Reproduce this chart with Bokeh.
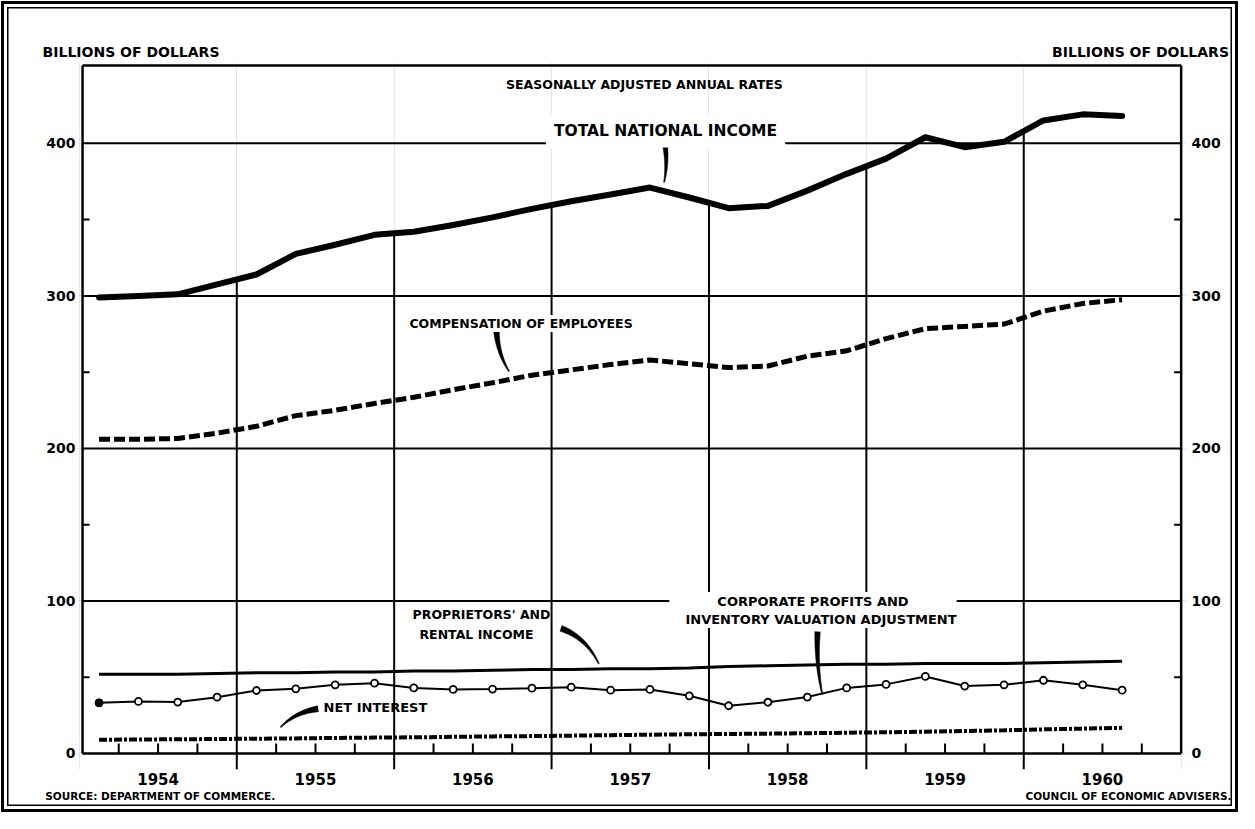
import numpy as np
from bokeh.plotting import figure
from bokeh.models import Range1d, LinearAxis, FixedTicker, Label
from bokeh.embed import file_html
from bokeh.resources import INLINE

# ---------------- data (billions of dollars, seasonally adjusted annual rates) ----------------
YEARS = [1954, 1955, 1956, 1957, 1958, 1959, 1960]
YEAR_LABELS = ["1954", "1955", "1956", "1957", "1958", "1959", "1960"]
N_QUARTERS = 27  # 1954 Q1 .. 1960 Q3

total_national_income = [299, 300, 301, 307.5, 314, 327.5, 333.5, 340, 342, 346.5, 351.5, 357, 362,
                         366.5, 371, 364.5, 357.5, 359, 369, 380, 390, 404, 397.5, 401, 415, 419, 418]
compensation_of_employees = [206, 206, 206.5, 210, 214.5, 221.5, 225, 229.5, 233.5, 238.5, 243, 248,
                             251.5, 255, 258, 255.5, 253, 254, 260.5, 264, 272, 278.5, 280, 281.5,
                             290, 295, 297.5]
proprietors_and_rental = [52, 52, 52, 52.5, 53, 53, 53.5, 53.5, 54, 54, 54.5, 55, 55, 55.5, 55.5, 56,
                          57, 57.5, 58, 58.5, 58.5, 59, 59, 59, 59.5, 60, 60.5]
corporate_profits_iva = [33.2, 34.1, 33.7, 36.9, 41.3, 42.4, 45, 46.1, 43, 42, 42.2, 42.8, 43.5, 41.5,
                         42, 37.8, 31.3, 33.6, 37, 43, 45.3, 50.5, 44.2, 45, 48, 45, 41.5]
net_interest = [9.0, 9.2, 9.3, 9.5, 9.7, 9.9, 10.2, 10.4, 10.6, 10.9, 11.2, 11.4, 11.7, 12.0, 12.3,
                12.6, 12.8, 13.0, 13.3, 13.6, 13.9, 14.3, 14.7, 15.2, 15.8, 16.3, 16.8]

Y_TICKS = [0, 100, 200, 300, 400]
Y_MINOR = [50, 150, 250, 350]

UNIT_TEXT = "BILLIONS OF DOLLARS"
SOURCE_TEXT = "SOURCE: DEPARTMENT OF COMMERCE."
AGENCY_TEXT = "COUNCIL OF ECONOMIC ADVISERS."

# quarter centres
t = [y + (q - 0.5) / 4 for y in YEARS for q in (1, 2, 3, 4)][:N_QUARTERS]

# ---------------- geometry ----------------
W, H = 1239, 813
X0, X1 = 1953.988, 1961.034      # frame range
XL, XR = 1954.02, 1961.0         # drawn border
YB, YT = -10.5, 453
YTOP = 451
SX = 1109 / (X1 - X0)            # px per year
SY = 707 / (YT - YB)             # px per billion

p = figure(width=W, height=H, x_range=Range1d(X0, X1), y_range=Range1d(YB, YT),
           output_backend="svg", toolbar_location=None,
           x_axis_location=None, y_axis_location=None,
           min_border_left=77, min_border_right=53, min_border_top=62, min_border_bottom=44)
p.outline_line_color = None
p.background_fill_color = "white"
p.border_fill_color = None
p.styles = {
    "outline": "3px solid black",
    "outline-offset": "-4px",
    "box-shadow": "inset 0 0 0 7px white, inset 0 0 0 8.5px black",
    "background-color": "white",
}

FONT = "DejaVu Sans"


def style_axis(ax, size, standoff):
    ax.axis_line_color = None
    ax.major_tick_line_color = None
    ax.minor_tick_line_color = None
    ax.major_tick_in = 0
    ax.major_tick_out = 0
    ax.minor_tick_in = 0
    ax.minor_tick_out = 0
    ax.major_label_text_font = FONT
    ax.major_label_text_font_style = "bold"
    ax.major_label_text_font_size = size
    ax.major_label_text_color = "black"
    ax.major_label_standoff = standoff
    return ax


yl = style_axis(LinearAxis(ticker=FixedTicker(ticks=Y_TICKS, minor_ticks=[])), "14px", 2)
yr = style_axis(LinearAxis(ticker=FixedTicker(ticks=Y_TICKS, minor_ticks=[])), "14px", 5)
p.add_layout(yl, "left")
p.add_layout(yr, "right")

# year labels, centred in each year
xa = LinearAxis(ticker=FixedTicker(ticks=[y + 0.5 for y in YEARS], minor_ticks=[]))
xa.major_label_overrides = {y + 0.5: lab for y, lab in zip(YEARS, YEAR_LABELS)}
style_axis(xa, "15px", 3)
p.add_layout(xa, "below")

# unit captions above the frame (left and right)
unit_pos = [XL + 48.5 / SX, XL + 1058 / SX]
ta = LinearAxis(ticker=FixedTicker(ticks=unit_pos, minor_ticks=[]))
ta.major_label_overrides = {v: UNIT_TEXT for v in unit_pos}
style_axis(ta, "14px", 3)
p.add_layout(ta, "above")

# source / agency line under the chart
foot_pos = [XL + 77.7 / SX, XL + 1046 / SX]
fa = LinearAxis(ticker=FixedTicker(ticks=foot_pos, minor_ticks=[]))
fa.major_label_overrides = {foot_pos[0]: SOURCE_TEXT, foot_pos[1]: AGENCY_TEXT}
style_axis(fa, "10.5px", 2)
p.add_layout(fa, "below")

# horizontal rules
p.segment(x0=XL, y0=Y_TICKS[1:], x1=XR, y1=Y_TICKS[1:], line_color="black", line_width=2)
# border + base line
p.segment(x0=[XL, XL, XR, XL], y0=[YTOP, 0, 0, 0], x1=[XR, XL, XR, XR], y1=[YTOP, YTOP, YTOP, 0],
          line_color="black", line_width=2.5)
# minor y ticks
tick_w = 7 / SX
p.segment(x0=XL, y0=Y_MINOR, x1=XL + tick_w, y1=Y_MINOR, line_color="black", line_width=2)
p.segment(x0=XR - tick_w, y0=Y_MINOR, x1=XR, y1=Y_MINOR, line_color="black", line_width=2)

# year division lines: from below the base up to the national income curve
yr_lines = YEARS[1:]
yr_top = np.interp(yr_lines, t, total_national_income)
p.segment(x0=yr_lines, y0=YB, x1=yr_lines, y1=yr_top, line_color="black", line_width=2)
# quarter ticks
q_ticks = [y + q / 4 for y in YEARS for q in (1, 2, 3)]
p.segment(x0=q_ticks, y0=0, x1=q_ticks, y1=10 / SY, line_color="black", line_width=2)

# ---------------- series ----------------
p.line(t, total_national_income, line_color="black", line_width=6, line_join="round", line_cap="round")
p.line(t, compensation_of_employees, line_color="black", line_width=5, line_dash="11 4")
p.line(t, proprietors_and_rental, line_color="black", line_width=3)
p.line(t, net_interest, line_color="black", line_width=4, line_dash="8 2 3 2")
p.line(t, corporate_profits_iva, line_color="black", line_width=2)
p.scatter(t[1:], corporate_profits_iva[1:], size=7, fill_color="white", line_color="black", line_width=1.8)
p.scatter(t[:1], corporate_profits_iva[:1], size=8, fill_color="black", line_color="black")


# ---------------- pointer strokes ----------------
def taper(p0, c, p1, w0, w1, n=40):
    P0 = np.array([p0[0] * SX, p0[1] * SY])
    C = np.array([c[0] * SX, c[1] * SY])
    P1 = np.array([p1[0] * SX, p1[1] * SY])
    s = np.linspace(0, 1, n)[:, None]
    pts = (1 - s) ** 2 * P0 + 2 * (1 - s) * s * C + s ** 2 * P1
    d = 2 * (1 - s) * (C - P0) + 2 * s * (P1 - C)
    nrm = np.column_stack([-d[:, 1], d[:, 0]])
    nrm /= np.linalg.norm(nrm, axis=1)[:, None]
    w = (w0 + (w1 - w0) * s) / 2
    poly = np.vstack([pts + nrm * w, (pts - nrm * w)[::-1]])
    return poly[:, 0] / SX, poly[:, 1] / SY


strokes = [
    ((1957.721, 399), (1957.738, 386), (1957.715, 374.5), 5, 1),
    ((1956.650, 276.5), (1956.660, 262), (1956.730, 250.5), 5.5, 1),
    ((1957.060, 82.0), (1957.220, 76), (1957.300, 58.8), 6, 1),
    ((1958.690, 79.8), (1958.680, 58), (1958.720, 38.8), 5.5, 1),
    ((1955.516, 29.3), (1955.370, 27), (1955.278, 17.2), 6, 1),
]
for a, c, b, w0, w1 in strokes:
    xs, ys = taper(a, c, b, w0, w1)
    p.patch(xs, ys, fill_color="black", line_color="black", line_width=0.5)


# ---------------- texts inside the frame ----------------
def label(x, y, text, size, align="center", bg=None, pad=0):
    lb = Label(x=x, y=y, text=text, text_font=FONT, text_font_style="bold", text_font_size=size,
               text_align=align, text_baseline="middle", text_color="black")
    if bg is not None:
        lb.background_fill_color = bg
        lb.padding = pad
    p.add_layout(lb)


label(1957.59, 438.5, "SEASONALLY ADJUSTED ANNUAL RATES", "12.5px")
label(1957.724, 408.4, "TOTAL NATIONAL INCOME", "15.5px", bg="white", pad=8)
label(1956.806, 281.9, "COMPENSATION OF EMPLOYEES", "12.5px", bg="white", pad=1)
label(1956.555, 91.1, "PROPRIETORS' AND", "12.5px")
label(1956.523, 78.0, "RENTAL INCOME", "12.5px")
label(1958.661, 99.6, "CORPORATE PROFITS AND", "13px", bg="white", pad=(48, 2))
label(1958.712, 87.8, "INVENTORY VALUATION ADJUSTMENT", "13px", bg="white", pad=1)
label(1955.551, 30.2, "NET INTEREST", "13px", align="left")

open("out.html", "w").write(file_html(p, INLINE))
